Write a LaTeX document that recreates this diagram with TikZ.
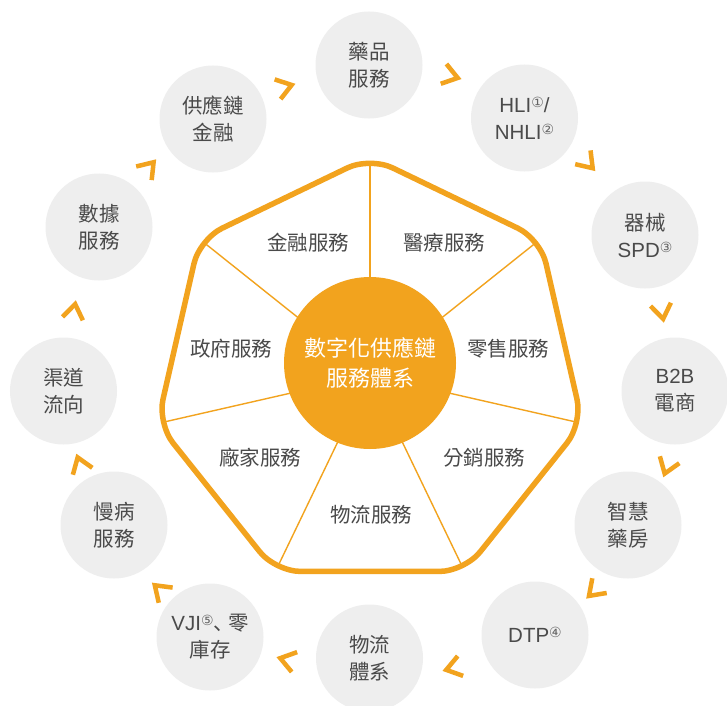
\documentclass[tikz,border=0pt]{standalone}
\usepackage{fontspec}
\setmainfont{Liberation Sans}
\newfontfamily\cjk{Noto Sans CJK TC}
\newfontfamily\cjkjp{Noto Sans CJK JP}
\newfontfamily\lat{Liberation Sans}
\newfontfamily\symf{DejaVu Sans}
\usetikzlibrary{calc}
\definecolor{orng}{HTML}{F2A31E}
\definecolor{ltgray}{HTML}{EEEEEE}
\definecolor{txt}{HTML}{4A4A4A}
\newcommand\cnum[1]{\raisebox{5bp}{\fontsize{14bp}{14bp}\selectfont\symf\color{txt!85} #1}}
\begin{document}
\begin{tikzpicture}[x=1bp,y=-1bp,
  outer/.style={circle, fill=ltgray, minimum size=107bp, inner sep=0pt, align=center, text=txt, font=\fontsize{20.5bp}{27bp}\selectfont\cjk},
  sector/.style={text=txt, font=\fontsize{20.5bp}{24bp}\selectfont\cjk, inner sep=0pt},
  core/.style={circle, fill=orng, minimum size=172bp, inner sep=0pt, align=center, text=white, font=\fontsize{22bp}{30bp}\selectfont\cjk},
  spoke/.style={draw=orng, line width=1.4bp},
  hept/.style={draw=orng, line width=5.5bp, rounded corners=25bp, line join=round},
  chevline/.style={draw=orng, line width=4.5bp},
  chev/.pic={\draw[chevline] (-7.7,-10.3) -- (7,0) -- (-7.7,10.3);}
]
\useasboundingbox (0,0) rectangle (727,706);
\fill[white] (0,0) rectangle (727,706);

% heptagon geometry
\coordinate (hc) at (370,375);
\begin{scope}[shift={(hc)}]
  \foreach \k in {0,...,6}{
    \coordinate (v\k) at ({90-\k*360/7}:218bp);
    \coordinate (s\k) at ({90-\k*360/7}:213bp);
  }
\end{scope}
\foreach \k in {0,...,6}{\draw[spoke] (hc) -- (s\k);}
\draw[hept] ($(v0)!0.5!(v1)$) -- (v1) -- (v2) -- (v3) -- (v4) -- (v5) -- (v6) -- (v0) -- cycle;

% core
\node[core] (core) at (370,363) {數字化供應鏈\\服務體系};

% sector labels
\node[sector] (sfin) at (308,243) {金融服務};
\node[sector] (smed) at (444,243) {醫療服務};
\node[sector] (sret) at (508,349) {零售服務};
\node[sector] (sdis) at (484,458) {分銷服務};
\node[sector] (slog) at (371,515) {物流服務};
\node[sector] (sfac) at (260,458) {廠家服務};
\node[sector] (sgov) at (231,349) {政府服務};

% outer ring
\node[outer] (n1) at (369,65) {藥品\\服務};
\node[outer] (n2) at (524.5,118) {{\lat HLI\cnum{①}/}\\{\lat NHLI\cnum{②}}};
\node[outer] (n3) at (645,235) {器械\\{\lat SPD\cnum{③}}};
\node[outer] (n4) at (675,391) {{\lat B2B}\\電商};
\node[outer] (n5) at (628,525) {智慧\\藥房};
\node[outer] (n6) at (535,635) {{\lat DTP\cnum{④}}};
\node[outer] (n7) at (369.5,658) {物流\\體系};
\node[outer] (n8) at (210,637) {{\lat VJI}\cnum{⑤}{\cjkjp 、}\kern-6bp 零\\庫存};
\node[outer] (n9) at (114,525) {慢病\\服務};
\node[outer] (n10) at (63.5,391) {渠道\\流向};
\node[outer] (n11) at (99,227) {數據\\服務};
\node[outer] (n12) at (213,119) {供應鏈\\金融};

% chevrons
\pic[rotate=17] at (285,87) {chev};
\pic[rotate=-16] at (451,76) {chev};
\pic[rotate=-48] at (588,163) {chev};
\pic[rotate=-80.5] at (662,312) {chev};
\pic[rotate=-109.6] at (667,467) {chev};
\pic[rotate=-135.6] at (594,591) {chev};
\pic[rotate=-164.7] at (453,668) {chev};
\pic[rotate=164.7] at (287,660) {chev};
\pic[rotate=137.6] at (160,590) {chev};
\pic[rotate=109.6] at (80,464) {chev};
\pic[rotate=80.4] at (74,311) {chev};
\pic[rotate=48.7] at (149,167.5) {chev};
\end{tikzpicture}
\end{document}
